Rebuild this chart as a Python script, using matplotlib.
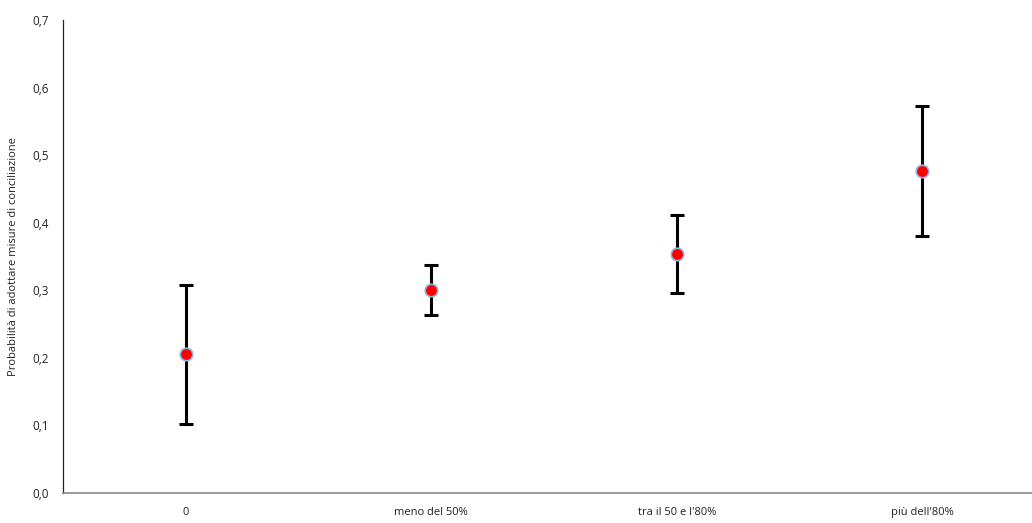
import matplotlib
matplotlib.use("Agg")
import matplotlib.pyplot as plt
import numpy as np

categories = ["0", "meno del 50%", "tra il 50 e l'80%", "più dell'80%"]
values = [0.206, 0.300, 0.354, 0.477]
upper = [0.308, 0.337, 0.411, 0.572]
lower = [0.102, 0.263, 0.296, 0.380]
yticks = [0.0, 0.1, 0.2, 0.3, 0.4, 0.5, 0.6, 0.7]
ytick_labels = ["0,0", "0,1", "0,2", "0,3", "0,4", "0,5", "0,6", "0,7"]

plt.rcParams['font.family'] = ['Open Sans', 'DejaVu Sans']

fig = plt.figure(figsize=(10.32, 5.23), dpi=100)
ax = fig.add_axes([63/1032, 1-493/523, (1032-63)/1032, (493-20)/523])

x = np.arange(len(categories))
v = np.array(values)
yerr = np.array([v - np.array(lower), np.array(upper) - v])
ax.errorbar(x, v, yerr=yerr, fmt='none', ecolor='black', elinewidth=2.2,
            capsize=5, capthick=2.2, zorder=2)
ax.plot(x, v, 'o', markersize=9, markerfacecolor='#ff0000',
        markeredgecolor='#8eb4e3', markeredgewidth=1.2, linestyle='none', zorder=3)

ax.set_xlim(-0.5, 3.447)
ax.set_ylim(0, 0.7)
ax.set_xticks(x)
ax.set_xticklabels(categories, fontsize=8, color='#222222')
ax.set_yticks(yticks)
ax.set_yticklabels(ytick_labels, fontsize=8.5, color='#222222')
ax.tick_params(axis='both', length=0, pad=10)
ax.set_ylabel("Probabilità di adottare misure di conciliazione", fontsize=8, color='#222222', labelpad=10)

for s in ['top', 'right']:
    ax.spines[s].set_visible(False)
ax.spines['left'].set_linestyle((0, (1.5, 1)))
ax.spines['left'].set_color('#222222')
ax.spines['left'].set_linewidth(0.9)
ax.spines['bottom'].set_color('#888888')
ax.spines['bottom'].set_linewidth(1.2)

fig.savefig("out.png", dpi=100)
